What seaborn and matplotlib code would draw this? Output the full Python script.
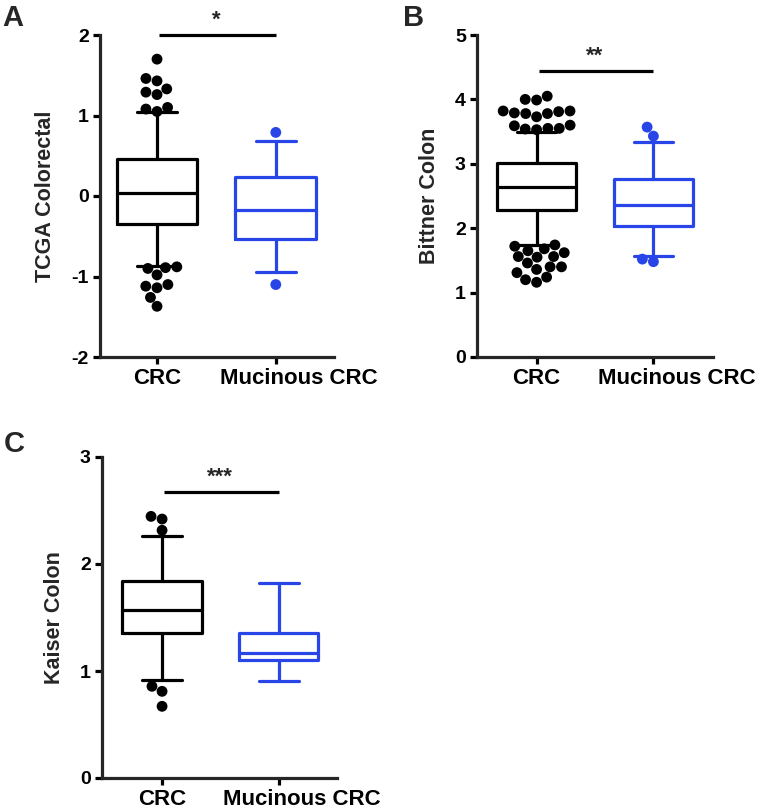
import seaborn as sns
import pandas as pd
import matplotlib.pyplot as plt
import matplotlib.transforms as mtrans

groups = ["CRC", "Mucinous CRC"]
colors = ["black", "#2846E8"]

# box stats: whisker low, q1, median, q3, whisker high
tcga_crc = [-0.87, -0.35, 0.04, 0.46, 1.04]
tcga_muc = [-0.95, -0.53, -0.17, 0.24, 0.68]
tcga_crc_out = [1.70, 1.46, 1.43, 1.33, 1.29, 1.26, 1.10, 1.08, 1.05,
                -0.88, -0.89, -0.90, -0.98, -1.10, -1.12, -1.14, -1.26, -1.37]
tcga_muc_out = [0.79, -1.10]

bittner_crc = [1.74, 2.29, 2.64, 3.01, 3.50]
bittner_muc = [1.57, 2.03, 2.36, 2.76, 3.34]
bittner_crc_out = [4.05, 4.00, 3.99, 3.82, 3.82, 3.81, 3.79, 3.78, 3.78, 3.73,
                   3.60, 3.59, 3.55, 3.55, 3.54, 3.53,
                   1.74, 1.72, 1.68, 1.65, 1.62, 1.56, 1.56, 1.55, 1.46, 1.40,
                   1.40, 1.36, 1.31, 1.24, 1.20, 1.16]
bittner_muc_out = [3.57, 3.43, 1.52, 1.48]

kaiser_crc = [0.92, 1.355, 1.567, 1.84, 2.26]
kaiser_muc = [0.907, 1.10, 1.17, 1.355, 1.82]
kaiser_crc_out = [2.445, 2.42, 2.315, 0.857, 0.81, 0.67]
kaiser_muc_out = []

sns.set_style("ticks")
plt.rcParams['font.family'] = ['Liberation Sans', 'DejaVu Sans']
plt.rcParams['font.weight'] = 'bold'
plt.rcParams['axes.labelweight'] = 'bold'

LW = 2.3


def draw_panel(ax, crc, muc, crc_out, muc_out, ylabel, ylim, yticks, sig_y, sig_text, xlim):
    bxstats = [dict(whislo=s[0], q1=s[1], med=s[2], q3=s[3], whishi=s[4], fliers=[])
               for s in (crc, muc)]
    art = ax.bxp(bxstats, positions=[0, 1], widths=0.68, showfliers=False)
    for i, c in enumerate(colors):
        art['boxes'][i].set(color=c, linewidth=LW)
        art['medians'][i].set(color=c, linewidth=LW)
        for w in art['whiskers'][2 * i:2 * i + 2] + art['caps'][2 * i:2 * i + 2]:
            w.set(color=c, linewidth=LW)

    df = pd.DataFrame({
        "group": pd.Categorical([groups[0]] * len(crc_out) + [groups[1]] * len(muc_out), categories=groups),
        "value": list(crc_out) + list(muc_out),
    })
    sns.swarmplot(data=df, x="group", y="value", hue="group", order=groups, hue_order=groups,
                  palette=dict(zip(groups, colors)), size=7.8, linewidth=0, ax=ax,
                  legend=False, zorder=4, warn_thresh=1)

    ax.plot([0.02, 1.0], [sig_y, sig_y], color="black", lw=LW, clip_on=False,
            solid_capstyle="butt")
    ax.annotate(sig_text, xy=(0.5, sig_y), xytext=(0, 3), textcoords="offset points",
                ha="center", va="bottom", fontsize=16, fontweight="bold", annotation_clip=False)

    ax.set_xlim(xlim)
    ax.set_ylim(ylim)
    ax.set_yticks(yticks)
    ax.set_yticklabels([str(t) for t in yticks], fontsize=14, fontweight="bold")
    ax.set_xticks([0, 1])
    ax.set_xticklabels(groups, fontsize=16, fontweight="bold")
    ax.set_xlabel("")
    ax.set_ylabel(ylabel, fontsize=15.5, fontweight="bold", labelpad=11)
    sns.despine(ax=ax)
    for sp in ("left", "bottom"):
        ax.spines[sp].set_linewidth(LW)
    ax.tick_params(width=LW, length=5, colors="black", pad=3)
    lab = ax.get_xticklabels()[1]
    lab.set_transform(lab.get_transform() + mtrans.ScaledTranslation(0.23, 0, ax.figure.dpi_scale_trans))


fig = plt.figure(figsize=(7.6, 8.11), dpi=100)
ax_a = fig.add_axes([100 / 760, 1 - 357 / 811, 234 / 760, 322 / 811])
ax_b = fig.add_axes([477 / 760, 1 - 357 / 811, 236 / 760, 322 / 811])
ax_c = fig.add_axes([102 / 760, 1 - 778 / 811, 235 / 760, 321 / 811])

draw_panel(ax_a, tcga_crc, tcga_muc, tcga_crc_out, tcga_muc_out, "TCGA Colorectal",
           (-2, 2), [-2, -1, 0, 1, 2], 2.0, "*", (-0.48, 1.49))
draw_panel(ax_b, bittner_crc, bittner_muc, bittner_crc_out, bittner_muc_out, "Bittner Colon",
           (0, 5), [0, 1, 2, 3, 4, 5], 4.44, "**", (-0.51, 1.51))
draw_panel(ax_c, kaiser_crc, kaiser_muc, kaiser_crc_out, kaiser_muc_out, "Kaiser Colon",
           (0, 3), [0, 1, 2, 3], 2.67, "***", (-0.515, 1.50))

fig.text(2 / 760, 1 - 4 / 811, "A", fontsize=21, fontweight="bold", va="top", ha="left")
fig.text(403 / 760, 1 - 4 / 811, "B", fontsize=21, fontweight="bold", va="top", ha="left")
fig.text(4 / 760, 1 - 430 / 811, "C", fontsize=21, fontweight="bold", va="top", ha="left")

fig.savefig("out.png", dpi=100, facecolor="w")
